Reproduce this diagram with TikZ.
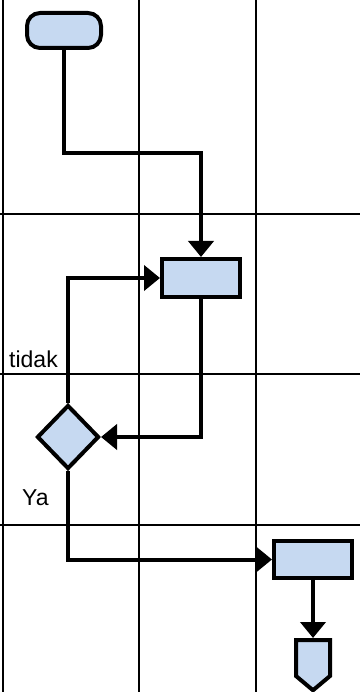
\documentclass[tikz,border=0pt]{standalone}
\usepackage{fontspec}
\setmainfont{Liberation Sans}
\usepackage{tikz}
\usetikzlibrary{arrows.meta,shapes.geometric,shapes.symbols}

\definecolor{boxblue}{RGB}{198,217,241}

\begin{document}
\begin{tikzpicture}[x=1pt,y=-1pt,
        box/.style={draw,line width=4pt,fill=boxblue,inner sep=0pt},
        flow/.style={-{Triangle[length=16pt,width=25pt]},line width=4pt},
        lbl/.style={anchor=base west,inner sep=0pt,font=\fontsize{23}{27}\selectfont},
        grid line/.style={line width=1.2pt}]

  \useasboundingbox (0,0) rectangle (360,692);

  % swimlane grid
  \foreach \x in {3,139,256}
    \draw[grid line] (\x,0) -- (\x,692);
  \foreach \y in {214,374,525}
    \draw[grid line] (0,\y) -- (360,\y);

  \node[box,rounded corners=13pt,minimum width=74pt,minimum height=35pt] (start) at (64,30.5) {};
  \node[box,minimum width=78pt,minimum height=38pt] (proc1) at (201,278) {};
  \node[box,diamond,minimum width=62pt,minimum height=64pt] (dec) at (68,437) {};
  \node[box,minimum width=78pt,minimum height=37pt] (proc2) at (313,559.5) {};
  \node[box,signal,signal to=south,signal from=nowhere,signal pointer angle=100,
        minimum width=34pt,minimum height=36pt,anchor=north] (off) at (313,638) {};

  \coordinate (bend) at (201,153);

  \node[lbl] (tidak) at (9,367) {tidak};
  \node[lbl] (ya) at (22,505) {Ya};

  \draw[flow] (start) |- (bend) -- (proc1);
  \draw[flow] (dec) |- (proc1);
  \draw[flow] (proc1) |- (dec);
  \draw[flow] (dec) |- (proc2);
  \draw[flow] (proc2) -- (off);

\end{tikzpicture}
\end{document}
